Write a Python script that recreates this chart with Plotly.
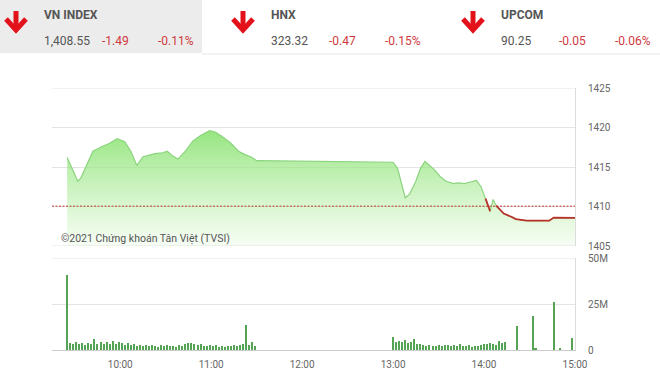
import numpy as np
import pandas as pd
import plotly.graph_objects as go

DAY = "2021-07-05 "

# ---------------- data ----------------
REF_LEVEL = 1410.04

PRICE_TIMES = ["09:25", "09:27", "09:32", "09:34", "09:37", "09:42", "09:47", "09:53", "09:58",
               "10:00", "10:03", "10:07", "10:11", "10:15", "10:20", "10:23", "10:28", "10:31",
               "10:34", "10:38", "10:43", "10:48", "10:53", "10:56", "10:59", "11:03", "11:07",
               "11:13", "11:18", "11:22", "11:27", "11:30", "13:00", "13:03", "13:06", "13:08",
               "13:11", "13:15", "13:18", "13:21", "13:27", "13:31", "13:35", "13:40", "13:43",
               "13:47", "13:51", "13:55", "13:58", "14:01", "14:03", "14:04", "14:06", "14:08",
               "14:13", "14:18", "14:21", "14:28", "14:43", "14:46", "15:00"]
PRICES = [1416.2, 1415.3, 1413.2, 1413.6, 1414.8, 1417.0, 1417.5, 1418.0, 1418.6,
          1418.4, 1418.2, 1417.0, 1415.2, 1416.3, 1416.6, 1416.7, 1416.8, 1417.0,
          1416.5, 1416.0, 1417.0, 1418.3, 1419.0, 1419.3, 1419.6, 1419.4, 1418.9,
          1418.0, 1417.0, 1416.6, 1416.2, 1415.8, 1415.6, 1414.8, 1412.5, 1411.1,
          1411.6, 1413.2, 1414.8, 1415.7, 1414.7, 1413.8, 1413.2, 1412.9, 1413.0,
          1412.9, 1413.1, 1413.3, 1412.5, 1411.0, 1410.0, 1409.4, 1410.9, 1410.1,
          1409.1, 1408.7, 1408.4, 1408.2, 1408.2, 1408.6, 1408.55]

# volume (millions of shares)
ATO_TIME = "09:25"
ATO_VOL = 40.8
MORNING_START = "09:27"
MORNING_VOL = [4.0, 3.2, 4.5, 3.0, 3.6, 2.8, 3.9, 3.1, 6.0, 3.5, 4.2, 3.0, 4.6, 3.3, 4.8, 3.0,
               4.4, 3.6, 2.5, 3.8, 2.6, 3.0, 2.4, 2.8, 2.2, 2.6, 2.0, 2.7, 2.3, 1.9, 2.5, 2.1,
               2.8, 2.0, 2.3, 1.8, 2.6, 2.2, 3.4, 4.0, 3.6, 3.0, 2.6, 3.1, 2.4, 2.2, 2.8, 2.0,
               2.5, 1.8, 2.3, 1.9, 2.4, 2.0, 2.6, 2.2, 2.8, 3.4, 13.6, 2.5, 4.5, 2.2]
AFTERNOON_START = "13:00"
AFTERNOON_VOL = [7.0, 4.5, 5.0, 4.2, 5.2, 3.8, 4.6, 6.2, 3.5, 3.0, 2.8, 2.4, 2.6, 2.2, 2.0, 2.5,
                 2.3, 2.8, 2.6, 2.2, 2.7, 2.0, 3.0, 2.4, 2.1, 2.6, 1.9, 2.2, 2.4, 2.6, 3.0, 3.2,
                 4.0, 3.5, 2.8, 4.8, 3.6, 4.2]
LATE_TIMES = ["14:22", "14:32", "14:33", "14:34", "14:46", "14:50", "14:58"]
LATE_VOL = [13.0, 18.5, 0.8, 0.8, 26.0, 0.8, 6.5]

X_TICKS = ["10:00", "11:00", "12:00", "13:00", "14:00", "15:00"]
PRICE_TICKS = [1405, 1410, 1415, 1420, 1425]
VOL_TICKS = [0, 25, 50]
VOL_TICK_TEXT = ["0", "25M", "50M"]

INDEX_NAMES = ["VN INDEX", "HNX", "UPCOM"]
INDEX_VALUES = ["1,408.55", "323.32", "90.25"]
INDEX_CHANGES = ["-1.49", "-0.47", "-0.05"]
INDEX_PCTS = ["-0.11%", "-0.15%", "-0.06%"]

WATERMARK = "©2021 Chứng khoán Tân Việt (TVSI)"

# ---------------- prep ----------------
t_price = pd.to_datetime([DAY + t for t in PRICE_TIMES])
p = np.array(PRICES)
below = p < REF_LEVEL
red_y = [v if (below[i] or (i + 1 < len(p) and below[i + 1])) else None for i, v in enumerate(p)]

t_vol = ([pd.Timestamp(DAY + ATO_TIME)]
         + list(pd.date_range(DAY + MORNING_START, periods=len(MORNING_VOL), freq="2min"))
         + list(pd.date_range(DAY + AFTERNOON_START, periods=len(AFTERNOON_VOL), freq="2min"))
         + [pd.Timestamp(DAY + t) for t in LATE_TIMES])
v_vol = [ATO_VOL] + MORNING_VOL + AFTERNOON_VOL + LATE_VOL

# pixel -> paper helpers (plot area: x 52..575, y 88..350)
L, R, T, B = 52, 575, 88, 350
def pxx(x):
    return (x - L) / (R - L)
def pxy(y):
    return (B - y) / (B - T)

FONT = "Roboto, Arial, sans-serif"
GRID = "#e4e4e4"
TICKC = "#666666"

fig = go.Figure()

fig.add_trace(go.Scatter(
    x=t_price, y=p, mode="lines", fill="tozeroy",
    line=dict(color="#8bd47e", width=1.2),
    fillgradient=dict(type="vertical", start=1405, stop=1420,
                      colorscale=[[0, "rgba(170,235,150,0.10)"], [1, "rgba(145,228,122,0.98)"]]),
    xaxis="x", yaxis="y", hoverinfo="skip", showlegend=False))

fig.add_trace(go.Scatter(
    x=t_price, y=red_y, mode="lines", connectgaps=False,
    line=dict(color="#b8322a", width=1.8),
    xaxis="x", yaxis="y", hoverinfo="skip", showlegend=False))

fig.add_trace(go.Bar(
    x=t_vol, y=v_vol, width=40000,
    marker=dict(color="#55a355", line=dict(width=0)),
    xaxis="x2", yaxis="y2", hoverinfo="skip", showlegend=False))

xr = [DAY + "09:15", DAY + "15:00"]
tickvals = [DAY + t for t in X_TICKS]

fig.update_layout(
    width=660, height=374, autosize=False,
    margin=dict(l=L, r=660 - R, t=T, b=374 - B, autoexpand=False),
    paper_bgcolor="white", plot_bgcolor="white",
    font=dict(family=FONT, color=TICKC, size=10),
    bargap=0,
    xaxis=dict(type="date", range=xr, domain=[0, 1], anchor="y", showticklabels=False,
               showgrid=False, zeroline=False, showline=False, tickvals=tickvals,
               automargin=False),
    yaxis=dict(domain=[pxy(246), 1], range=[1405, 1425], side="right", tickvals=PRICE_TICKS,
               showgrid=True, gridcolor=GRID, gridwidth=1, zeroline=False,
               showline=True, linecolor="#dcdcdc", linewidth=1, automargin=False,
               ticks="outside", ticklen=10, tickcolor="rgba(0,0,0,0)",
               tickfont=dict(size=10, color=TICKC)),
    xaxis2=dict(type="date", range=xr, domain=[0, 1], anchor="y2", tickvals=tickvals,
                tickformat="%H:%M", showgrid=False, zeroline=False, automargin=False,
                showline=True, linecolor="#cccccc", linewidth=1,
                ticks="outside", ticklen=5, tickcolor="rgba(0,0,0,0)",
                tickfont=dict(size=10, color=TICKC)),
    yaxis2=dict(domain=[0, pxy(258)], range=[0, 50], side="right", tickvals=VOL_TICKS,
                ticktext=VOL_TICK_TEXT, showgrid=True, gridcolor=GRID, zeroline=False,
                showline=True, linecolor="#dcdcdc", linewidth=1, automargin=False,
                ticks="outside", ticklen=10, tickcolor="rgba(0,0,0,0)",
                tickfont=dict(size=10, color=TICKC)),
)

shapes = []
# edge gridlines (plotly omits gridlines at range ends)
for yref, yval in [("y", PRICE_TICKS[0]), ("y", PRICE_TICKS[-1]), ("y2", VOL_TICKS[-1])]:
    shapes.append(dict(type="line", xref="x domain" if yref == "y" else "x2 domain", yref=yref,
                       x0=0, x1=1, y0=yval, y1=yval, line=dict(color=GRID, width=1), layer="below"))
# reference (previous close) dashed line
shapes.append(dict(type="line", xref="x domain", yref="y", x0=0, x1=1, y0=REF_LEVEL, y1=REF_LEVEL,
                   line=dict(color="#c0392b", width=1, dash="2px,1.5px"), layer="above"))
# header background + divider
shapes.append(dict(type="rect", xref="paper", yref="paper", x0=pxx(0), x1=pxx(202),
                   y0=pxy(53), y1=pxy(0), fillcolor="#ececec", line=dict(width=0), layer="below"))
shapes.append(dict(type="line", xref="paper", yref="paper", x0=pxx(202), x1=pxx(660),
                   y0=pxy(54), y1=pxy(54), line=dict(color="#e6e6e6", width=1)))

annotations = []
offsets = [0, 227, 457]
for i, off in enumerate(offsets):
    cx = off + 16
    shapes.append(dict(type="path", xref="paper", yref="paper",
                       path=f"M {pxx(cx)} {pxy(11)} L {pxx(cx)} {pxy(29)}",
                       line=dict(color="#e3111a", width=5)))
    shapes.append(dict(type="path", xref="paper", yref="paper",
                       path=f"M {pxx(cx-10)} {pxy(19)} L {pxx(cx)} {pxy(30)} L {pxx(cx+10)} {pxy(19)}",
                       line=dict(color="#e3111a", width=5)))
    annotations.append(dict(xref="paper", yref="paper", x=pxx(off + 42), y=pxy(15),
                            xanchor="left", yanchor="middle", showarrow=False,
                            text=f"<b>{INDEX_NAMES[i]}</b>",
                            font=dict(family=FONT, size=12, color="#555555")))
    annotations.append(dict(xref="paper", yref="paper", x=pxx(off + 42), y=pxy(41),
                            xanchor="left", yanchor="middle", showarrow=False,
                            text=INDEX_VALUES[i], font=dict(family=FONT, size=12, color="#555555")))
    annotations.append(dict(xref="paper", yref="paper", x=pxx(off + 100), y=pxy(41),
                            xanchor="left", yanchor="middle", showarrow=False,
                            text=INDEX_CHANGES[i], font=dict(family=FONT, size=12, color="#d0393c")))
    annotations.append(dict(xref="paper", yref="paper", x=pxx(off + 196), y=pxy(41),
                            xanchor="right", yanchor="middle", showarrow=False,
                            text=INDEX_PCTS[i], font=dict(family=FONT, size=12, color="#d0393c")))

annotations.append(dict(xref="paper", yref="paper", x=pxx(59), y=pxy(238),
                        xanchor="left", yanchor="middle", showarrow=False, text=WATERMARK,
                        font=dict(family=FONT, size=10.5, color="#555555")))

fig.update_layout(shapes=shapes, annotations=annotations)

fig.write_html("out.html")
